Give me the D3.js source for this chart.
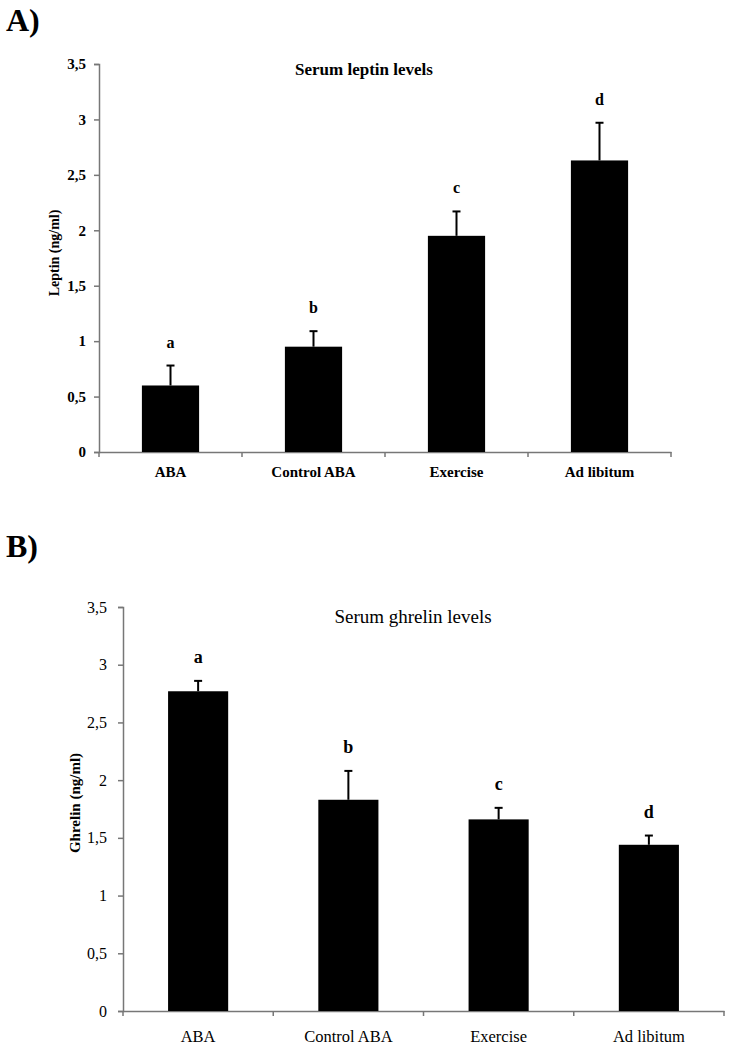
<!DOCTYPE html>
<html><head><meta charset="utf-8">
<script src="https://cdn.jsdelivr.net/npm/d3@7"></script>
<style>body{margin:0;background:#fff}svg{display:block}text{font-family:"Liberation Serif","Times New Roman",serif;fill:#000}</style>
</head><body>
<svg id="c" width="735" height="1049"></svg>
<script>
const categories = ["ABA", "Control ABA", "Exercise", "Ad libitum"];
const leptinMean = [0.60, 0.95, 1.95, 2.63];
const leptinErr  = [0.18, 0.14, 0.22, 0.34];
const leptinSig  = ["a", "b", "c", "d"];
const ghrelinMean = [2.77, 1.83, 1.66, 1.44];
const ghrelinErr  = [0.09, 0.25, 0.10, 0.08];
const ghrelinSig  = ["a", "b", "c", "d"];
const yTicks = [0, 0.5, 1, 1.5, 2, 2.5, 3, 3.5];

const svg = d3.select("#c");
const fmt = d => String(d).replace(".", ",");
const FF = '"Liberation Serif","Times New Roman",serif';

function panel(o) {
  const g = svg.append("g");
  const x = d3.scaleBand().domain(categories).range([o.x0, o.x1]).paddingInner(0.6).paddingOuter(0.3);
  const y = d3.scaleLinear().domain([0, 3.5]).range([o.y0, o.y1]);
  const axisColor = "#777";

  // y axis
  const ya = g.append("g").attr("transform", `translate(${o.x0},0)`)
    .call(d3.axisLeft(y).tickValues(yTicks).tickFormat(fmt).tickSize(5).tickPadding(o.yPad));
  ya.select(".domain").attr("stroke", axisColor).attr("stroke-width", 1.5);
  ya.selectAll(".tick line").attr("stroke", axisColor).attr("stroke-width", 1.5);
  ya.selectAll(".tick text").style("font-size", o.tickFs + "px").style("font-weight", o.tickW)
    .style("font-family", FF).attr("fill", "#000");

  // x axis
  const xa = g.append("g").attr("transform", `translate(0,${o.y0})`)
    .call(d3.axisBottom(x).tickSize(0).tickPadding(o.catPad).tickSizeOuter(0));
  xa.select(".domain").attr("stroke", axisColor).attr("stroke-width", 1.5);
  xa.selectAll(".tick text").style("font-size", o.catFs + "px").style("font-weight", o.tickW)
    .style("font-family", FF).attr("fill", "#000");
  const bounds = d3.range(categories.length + 1).map(i => x.range()[0] + i * x.step());
  g.selectAll(".bt").data(bounds).join("line")
    .attr("x1", d => d).attr("x2", d => d).attr("y1", o.y0).attr("y2", o.y0 + 5)
    .attr("stroke", axisColor).attr("stroke-width", 1.5);

  // error bars
  const cx = c => x(c) + x.bandwidth() / 2;
  g.selectAll(".eb").data(categories).join("line")
    .attr("x1", cx).attr("x2", cx)
    .attr("y1", (c, i) => y(o.mean[i])).attr("y2", (c, i) => y(o.mean[i] + o.err[i]))
    .attr("stroke", "#000").attr("stroke-width", 2);
  g.selectAll(".ec").data(categories).join("line")
    .attr("x1", c => cx(c) - 4).attr("x2", c => cx(c) + 4)
    .attr("y1", (c, i) => y(o.mean[i] + o.err[i])).attr("y2", (c, i) => y(o.mean[i] + o.err[i]))
    .attr("stroke", "#000").attr("stroke-width", 2);

  // bars
  g.selectAll(".bar").data(categories).join("rect")
    .attr("x", c => x(c)).attr("width", x.bandwidth())
    .attr("y", (c, i) => y(o.mean[i])).attr("height", (c, i) => y(0) - y(o.mean[i]))
    .attr("fill", "#000");

  // significance letters
  g.selectAll(".sig").data(categories).join("text")
    .attr("x", cx).attr("y", (c, i) => y(o.mean[i] + o.err[i]) - o.sigOff)
    .attr("text-anchor", "middle").style("font-size", o.sigFs + "px").style("font-weight", "bold")
    .text((c, i) => o.sig[i]);

  // title
  g.append("text").attr("x", o.titleX).attr("y", o.titleY).attr("text-anchor", "middle")
    .style("font-size", o.titleFs + "px").style("font-weight", o.titleW).text(o.title);

  // y label
  g.append("text").attr("transform", `translate(${o.ylabX},${o.ylabY}) rotate(-90)`)
    .attr("text-anchor", "middle").style("font-size", o.ylabFs + "px").style("font-weight", "bold")
    .text(o.ylab);

  // panel letter
  g.append("text").attr("x", 6).attr("y", o.panelY).style("font-size", "32px").style("font-weight", "bold")
    .text(o.panel);
}

panel({
  x0: 99, x1: 671, y0: 452, y1: 64, mean: leptinMean, err: leptinErr, sig: leptinSig,
  tickFs: 15, catFs: 15, tickW: "bold", yPad: 8, catPad: 14, sigFs: 16, sigOff: 18,
  title: "Serum leptin levels", titleX: 364, titleY: 75, titleFs: 17, titleW: "bold",
  ylab: "Leptin (ng/ml)", ylabX: 59, ylabY: 253, ylabFs: 14, panel: "A)", panelY: 31
});
panel({
  x0: 123, x1: 724, y0: 1011, y1: 607, mean: ghrelinMean, err: ghrelinErr, sig: ghrelinSig,
  tickFs: 16, catFs: 16.5, tickW: "normal", yPad: 11, catPad: 19, sigFs: 18, sigOff: 18,
  title: "Serum ghrelin levels", titleX: 413, titleY: 623, titleFs: 19, titleW: "normal",
  ylab: "Ghrelin (ng/ml)", ylabX: 80, ylabY: 803, ylabFs: 15, panel: "B)", panelY: 557
});
</script>
</body></html>
